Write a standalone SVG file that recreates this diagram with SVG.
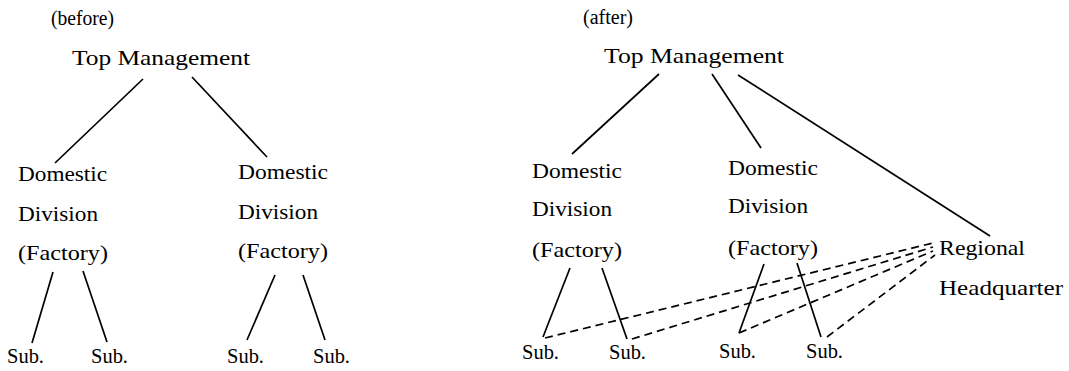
<svg xmlns="http://www.w3.org/2000/svg" width="1069" height="371" viewBox="0 0 1069 371">
<style>
text{font-family:"Liberation Serif","DejaVu Serif","Times New Roman",serif;font-size:22px;fill:#000}
.cap{font-size:20px}
.s{stroke:#000;stroke-width:1.7;fill:none}
.d{stroke:#000;stroke-width:1.7;fill:none;stroke-dasharray:8 5}
</style>
<rect width="1069" height="371" fill="#fff"/>
<g id="captions">
<text class="cap" x="51" y="25" textLength="63" lengthAdjust="spacingAndGlyphs">(before)</text>
<text class="cap" x="583" y="24" textLength="50" lengthAdjust="spacingAndGlyphs">(after)</text>
</g>
<g id="connectors">
<line class="s" x1="143" y1="79" x2="55" y2="163"/>
<line class="s" x1="192" y1="77" x2="267" y2="157"/>
<line class="s" x1="53" y1="272" x2="32" y2="343"/>
<line class="s" x1="83" y1="271" x2="107" y2="342"/>
<line class="s" x1="275" y1="275" x2="247" y2="340"/>
<line class="s" x1="303" y1="275" x2="325" y2="340"/>
<line class="s" x1="659" y1="74" x2="572" y2="154"/>
<line class="s" x1="712" y1="74" x2="761" y2="148"/>
<line class="s" x1="738" y1="75" x2="990" y2="236"/>
<line class="s" x1="570" y1="268" x2="543" y2="337"/>
<line class="s" x1="602" y1="268" x2="627" y2="339"/>
<line class="s" x1="764" y1="264" x2="739" y2="333"/>
<line class="s" x1="797" y1="263" x2="821" y2="337"/>
<line class="d" x1="545" y1="338" x2="933" y2="243"/>
<line class="d" x1="632" y1="339" x2="933" y2="247"/>
<line class="d" x1="739" y1="333" x2="933" y2="251"/>
<line class="d" x1="827" y1="337" x2="935" y2="255"/>
</g>
<g id="top-before"><text x="72" y="65" textLength="178" lengthAdjust="spacingAndGlyphs">Top  Management</text></g>
<g id="div-before-1">
<text x="18" y="181" textLength="89" lengthAdjust="spacingAndGlyphs">Domestic</text>
<text x="18" y="221" textLength="80" lengthAdjust="spacingAndGlyphs">Division</text>
<text x="18" y="260" textLength="90" lengthAdjust="spacingAndGlyphs">(Factory)</text>
</g>
<g id="div-before-2">
<text x="238" y="179" textLength="90" lengthAdjust="spacingAndGlyphs">Domestic</text>
<text x="238" y="219" textLength="80" lengthAdjust="spacingAndGlyphs">Division</text>
<text x="238" y="258" textLength="90" lengthAdjust="spacingAndGlyphs">(Factory)</text>
</g>
<g id="sub-before-1"><text x="7" y="363" textLength="37" lengthAdjust="spacingAndGlyphs">Sub.</text></g>
<g id="sub-before-2"><text x="91" y="363" textLength="37" lengthAdjust="spacingAndGlyphs">Sub.</text></g>
<g id="sub-before-3"><text x="227" y="363" textLength="37" lengthAdjust="spacingAndGlyphs">Sub.</text></g>
<g id="sub-before-4"><text x="313" y="363" textLength="37" lengthAdjust="spacingAndGlyphs">Sub.</text></g>
<g id="top-after"><text x="604" y="63" textLength="180" lengthAdjust="spacingAndGlyphs">Top  Management</text></g>
<g id="div-after-1">
<text x="532" y="178" textLength="90" lengthAdjust="spacingAndGlyphs">Domestic</text>
<text x="532" y="216" textLength="80" lengthAdjust="spacingAndGlyphs">Division</text>
<text x="532" y="257" textLength="90" lengthAdjust="spacingAndGlyphs">(Factory)</text>
</g>
<g id="div-after-2">
<text x="728" y="175" textLength="90" lengthAdjust="spacingAndGlyphs">Domestic</text>
<text x="728" y="213" textLength="80" lengthAdjust="spacingAndGlyphs">Division</text>
<text x="728" y="255" textLength="90" lengthAdjust="spacingAndGlyphs">(Factory)</text>
</g>
<g id="regional-hq">
<text x="939" y="255" textLength="86" lengthAdjust="spacingAndGlyphs">Regional</text>
<text x="939" y="295" textLength="124" lengthAdjust="spacingAndGlyphs">Headquarter</text>
</g>
<g id="sub-after-1"><text x="522" y="359" textLength="37" lengthAdjust="spacingAndGlyphs">Sub.</text></g>
<g id="sub-after-2"><text x="609" y="359" textLength="37" lengthAdjust="spacingAndGlyphs">Sub.</text></g>
<g id="sub-after-3"><text x="719" y="358" textLength="37" lengthAdjust="spacingAndGlyphs">Sub.</text></g>
<g id="sub-after-4"><text x="806" y="358" textLength="37" lengthAdjust="spacingAndGlyphs">Sub.</text></g>
</svg>
